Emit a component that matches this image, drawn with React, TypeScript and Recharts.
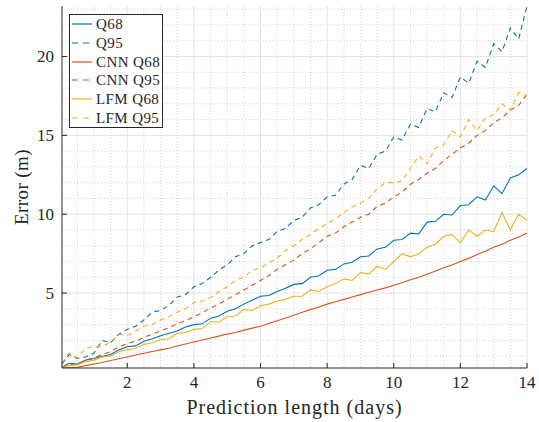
import React from 'react';
import { LineChart, Line, XAxis, YAxis, CartesianGrid, Legend, Label } from 'recharts';

const days = [0.04, 0.25, 0.5, 0.75, 1, 1.25, 1.5, 1.75, 2, 2.25, 2.5, 2.75, 3, 3.25, 3.5, 3.75, 4, 4.25, 4.5, 4.75, 5, 5.25, 5.5, 5.75, 6, 6.25, 6.5, 6.75, 7, 7.25, 7.5, 7.75, 8, 8.25, 8.5, 8.75, 9, 9.25, 9.5, 9.75, 10, 10.25, 10.5, 10.75, 11, 11.25, 11.5, 11.75, 12, 12.25, 12.5, 12.75, 13, 13.25, 13.5, 13.75, 14];

const q68 = [0.3, 0.55, 0.5, 0.75, 0.85, 1.0, 1.1, 1.4, 1.6, 1.65, 1.95, 2.1, 2.3, 2.45, 2.6, 2.85, 3.0, 3.05, 3.4, 3.55, 3.85, 4.0, 4.3, 4.55, 4.8, 4.85, 5.1, 5.3, 5.55, 5.6, 6.0, 6.1, 6.45, 6.5, 6.85, 6.95, 7.3, 7.35, 7.8, 7.9, 8.35, 8.4, 8.8, 8.75, 9.5, 9.55, 10.0, 9.95, 10.55, 10.6, 11.1, 10.9, 11.8, 11.3, 12.3, 12.5, 12.9];
const q95 = [0.5, 1.1, 0.85, 0.95, 1.2, 2.0, 1.85, 2.4, 2.7, 2.9, 3.3, 3.8, 3.9, 4.2, 4.75, 4.9, 5.4, 5.6, 6.0, 6.45, 6.8, 7.3, 7.5, 8.0, 8.2, 8.4, 8.9, 9.1, 9.6, 9.8, 10.4, 10.6, 11.1, 11.2, 11.9, 12.2, 13.1, 12.9, 13.8, 14.0, 14.9, 14.7, 15.7, 15.5, 16.7, 16.5, 17.7, 17.4, 18.7, 18.3, 19.7, 19.3, 20.8, 20.3, 21.8, 21.1, 23.2];
const cnnQ68 = [0.25, 0.27, 0.3, 0.4, 0.5, 0.6, 0.72, 0.84, 0.95, 1.07, 1.18, 1.3, 1.4, 1.5, 1.65, 1.77, 1.9, 2.02, 2.15, 2.27, 2.4, 2.5, 2.65, 2.78, 2.9, 3.07, 3.25, 3.42, 3.6, 3.78, 3.95, 4.12, 4.3, 4.45, 4.6, 4.75, 4.9, 5.05, 5.2, 5.33, 5.5, 5.65, 5.85, 6.0, 6.2, 6.4, 6.6, 6.78, 7.0, 7.2, 7.45, 7.65, 7.9, 8.1, 8.35, 8.55, 8.8];
const cnnQ95 = [0.3, 0.45, 0.5, 0.75, 0.9, 1.1, 1.3, 1.6, 1.8, 1.95, 2.2, 2.4, 2.6, 2.8, 3.05, 3.25, 3.5, 3.75, 4.05, 4.3, 4.6, 4.9, 5.2, 5.5, 5.8, 6.1, 6.5, 6.8, 7.1, 7.5, 7.8, 8.2, 8.6, 8.8, 9.2, 9.5, 9.8, 10.0, 10.5, 10.7, 11.1, 11.4, 11.9, 12.2, 12.6, 12.9, 13.4, 13.8, 14.2, 14.5, 15.0, 15.3, 15.8, 16.1, 16.6, 16.9, 17.6];
const lfmQ68 = [0.3, 0.4, 0.45, 0.65, 0.75, 0.95, 1.0, 1.3, 1.4, 1.5, 1.75, 1.85, 2.05, 2.1, 2.45, 2.5, 2.7, 2.75, 3.2, 3.15, 3.5, 3.55, 3.95, 3.9, 4.2, 4.3, 4.5, 4.6, 4.8, 4.8, 5.2, 5.1, 5.4, 5.6, 5.9, 5.8, 6.3, 6.2, 6.7, 6.5, 7.0, 7.5, 7.3, 7.5, 7.9, 8.1, 8.6, 8.7, 8.2, 9.0, 8.6, 9.0, 8.9, 10.1, 9.0, 10.0, 9.6];
const lfmQ95 = [0.55, 1.2, 0.9, 1.5, 1.6, 1.6, 1.9, 2.4, 2.3, 2.6, 2.9, 3.0, 3.3, 3.5, 3.8, 4.0, 4.4, 4.5, 4.7, 5.1, 5.4, 5.8, 6.0, 6.45, 6.6, 6.9, 7.2, 7.7, 8.0, 8.4, 8.7, 9.1, 9.4, 9.7, 10.1, 10.45, 10.7, 11.0, 11.6, 12.0, 12.0, 12.1, 12.9, 13.7, 13.2, 14.2, 14.4, 15.3, 14.9, 16.0, 15.3, 16.1, 16.3, 17.0, 16.6, 17.7, 17.5];

const xTicks = [2, 4, 6, 8, 10, 12, 14];
const yTicks = [5, 10, 15, 20];
const xMinor = [0.5, 1, 1.5, 2.5, 3, 3.5, 4.5, 5, 5.5, 6.5, 7, 7.5, 8.5, 9, 9.5, 10.5, 11, 11.5, 12.5, 13, 13.5];
const yMinor = [1, 2, 3, 4, 6, 7, 8, 9, 11, 12, 13, 14, 16, 17, 18, 19, 21, 22, 23];

const BLUE = '#0072BD';
const ORANGE = '#D95319';
const YELLOW = '#EDB120';
const INK = '#262626';
const SERIF = '"Liberation Serif", "Times New Roman", serif';

const series = [
  { key: 'q68', name: 'Q68', color: BLUE, dashed: false },
  { key: 'q95', name: 'Q95', color: BLUE, dashed: true },
  { key: 'cnnQ68', name: 'CNN Q68', color: ORANGE, dashed: false },
  { key: 'cnnQ95', name: 'CNN Q95', color: ORANGE, dashed: true },
  { key: 'lfmQ68', name: 'LFM Q68', color: YELLOW, dashed: false },
  { key: 'lfmQ95', name: 'LFM Q95', color: YELLOW, dashed: true },
];

const data = days.map((d, i) => ({
  day: d,
  q68: q68[i],
  q95: q95[i],
  cnnQ68: cnnQ68[i],
  cnnQ95: cnnQ95[i],
  lfmQ68: lfmQ68[i],
  lfmQ95: lfmQ95[i],
}));

// ticks point inward like matlab
const XTick = (props: any) => {
  const { x, y, payload } = props;
  return (
    <g>
      <line x1={x} y1={y} x2={x} y2={y - 5} stroke={INK} strokeWidth={1} />
      <text x={x} y={y + 20} textAnchor="middle" fill={INK} fontFamily={SERIF} fontSize={17}>
        {payload.value}
      </text>
    </g>
  );
};

const YTick = (props: any) => {
  const { x, y, payload } = props;
  return (
    <g>
      <line x1={x} y1={y} x2={x + 5} y2={y} stroke={INK} strokeWidth={1} />
      <text x={x - 8} y={y + 5.5} textAnchor="end" fill={INK} fontFamily={SERIF} fontSize={17}>
        {payload.value}
      </text>
    </g>
  );
};

const LegendBox = () => (
  <div
    style={{
      boxSizing: 'border-box',
      width: 94,
      border: `1px solid ${INK}`,
      background: '#fff',
      padding: '0 0 0 2px',
      fontFamily: SERIF,
      fontSize: 15,
      letterSpacing: 0.4,
      color: INK,
    }}
  >
    {series.map((s) => (
      <div key={s.key} style={{ display: 'flex', alignItems: 'center', height: 18.7 }}>
        <svg width={20} height={10} style={{ display: 'block' }}>
          <line x1={0} y1={5} x2={20} y2={5} stroke={s.color} strokeWidth={1.2} strokeDasharray={s.dashed ? '6 5' : undefined} />
        </svg>
        <span style={{ marginLeft: 4, whiteSpace: 'nowrap', lineHeight: '18px' }}>{s.name}</span>
      </div>
    ))}
  </div>
);

export default function App() {
  return (
    <div style={{ position: 'absolute', left: 0, top: 0, width: 539, height: 422, background: '#fff' }}>
      <LineChart width={539} height={422} data={data} margin={{ top: 6, right: 12, bottom: 0, left: 0 }}>
        <CartesianGrid horizontalValues={yMinor} verticalValues={xMinor} stroke="#d4d4d4" strokeDasharray="1 2" />
        <CartesianGrid horizontalValues={yTicks} verticalValues={xTicks} stroke="#e4e4e4" strokeWidth={1} />
        <XAxis
          dataKey="day"
          type="number"
          domain={[0.04, 14]}
          ticks={xTicks}
          allowDataOverflow
          height={54}
          tickSize={0}
          tickMargin={0}
          tickLine={false}
          axisLine={{ stroke: INK }}
          tick={<XTick />}
          interval={0}
        >
          <Label
            value="Prediction length (days)"
            position="insideBottom"
            offset={8}
            style={{ fontFamily: SERIF, fontSize: 20, letterSpacing: 1, fill: INK }}
          />
        </XAxis>
        <YAxis
          type="number"
          domain={[0.25, 23.2]}
          ticks={yTicks}
          allowDataOverflow
          width={62}
          tickSize={0}
          tickMargin={0}
          tickLine={false}
          axisLine={{ stroke: INK }}
          tick={<YTick />}
          interval={0}
        >
          <Label
            value="Error (m)"
            angle={-90}
            position="insideLeft"
            offset={21}
            style={{ textAnchor: 'middle', fontFamily: SERIF, fontSize: 19, letterSpacing: 0.4, fill: INK }}
          />
        </YAxis>
        {series.map((s) => (
          <Line
            key={s.key}
            type="linear"
            dataKey={s.key}
            name={s.name}
            stroke={s.color}
            strokeWidth={1.1}
            strokeDasharray={s.dashed ? '5 4' : undefined}
            dot={false}
            activeDot={false}
            isAnimationActive={false}
          />
        ))}
        <Legend
          layout="vertical"
          align="center"
          verticalAlign="middle"
          wrapperStyle={{ left: 69, top: 14, width: 'auto', height: 'auto' }}
          content={() => <LegendBox />}
        />
      </LineChart>
    </div>
  );
}
